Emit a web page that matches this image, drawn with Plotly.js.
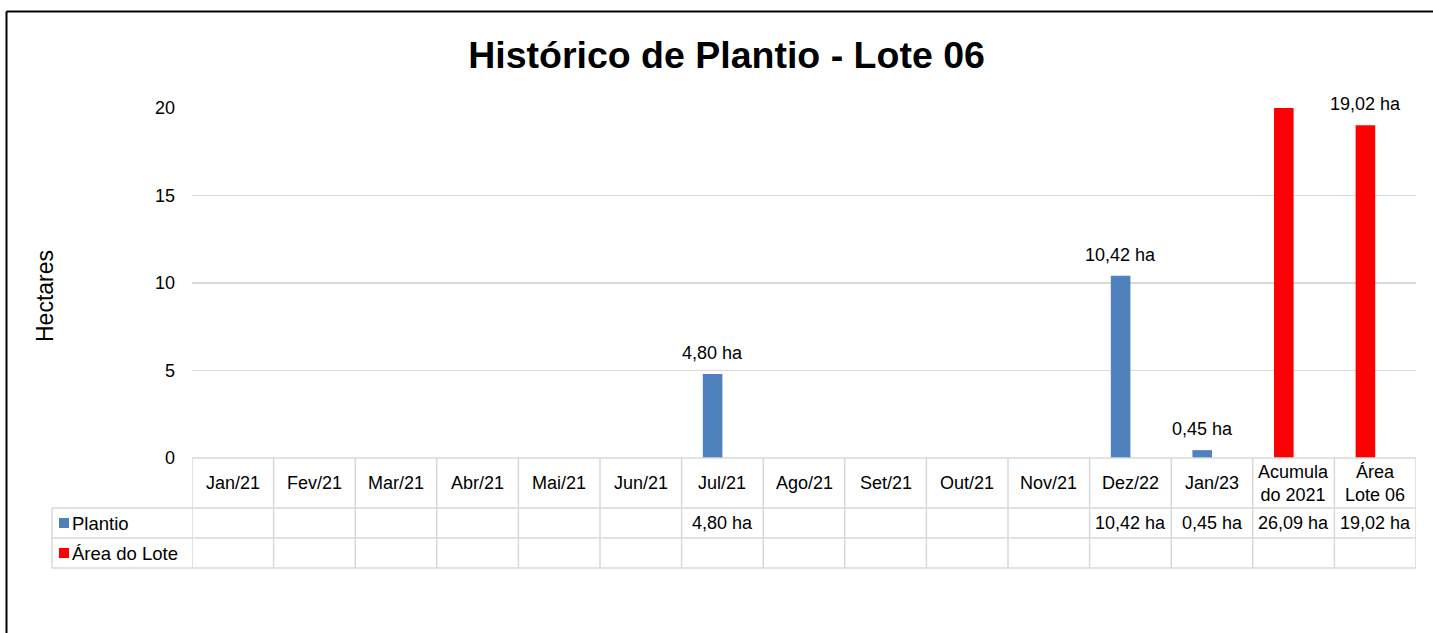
<!DOCTYPE html>
<html>
<head>
<meta charset="utf-8">
<script src="https://cdn.plot.ly/plotly-3.0.1.min.js"></script>
<style>
  html, body { margin: 0; padding: 0; background: #fff; overflow: hidden; }
  #chart { width: 1433px; height: 633px; }
</style>
</head>
<body>
<div id="chart"></div>
<script>
// ---- data ----
const categories = ['Jan/21', 'Fev/21', 'Mar/21', 'Abr/21', 'Mai/21', 'Jun/21', 'Jul/21', 'Ago/21',
  'Set/21', 'Out/21', 'Nov/21', 'Dez/22', 'Jan/23', 'Acumulado 2021', 'Área Lote 06'];
const tickLabels = ['Jan/21', 'Fev/21', 'Mar/21', 'Abr/21', 'Mai/21', 'Jun/21', 'Jul/21', 'Ago/21',
  'Set/21', 'Out/21', 'Nov/21', 'Dez/22', 'Jan/23', 'Acumula<br>do 2021', 'Área<br>Lote 06'];
const plantio = [null, null, null, null, null, null, 4.80, null, null, null, null, 10.42, 0.45, 26.09, 19.02];
const areaDoLote = [null, null, null, null, null, null, null, null, null, null, null, null, null, null, null];
const seriesNames = ['Plantio', 'Área do Lote'];
const yTicks = [0, 5, 10, 15, 20];
const titleText = 'Histórico de Plantio - Lote 06';
const yTitle = 'Hectares';

// ---- styles ----
const FONT = '"Liberation Sans", Arial, Helvetica, sans-serif';
const BLUE = '#4F81BD';
const RED = '#FF0000';
const GRID = '#D9D9D9';
const yMax = 20;
const plotH = 350;      // px height of the plot area
const plotW = 1224;     // px width of the plot area
const catW = plotW / categories.length;
const barW = 0.24;      // bar width in category units
const py = px => -px / plotH;           // pixels below the x axis -> paper y
const pxX = px => px / plotW;           // pixels from plot left -> paper x

const barColors = categories.map((c, i) => i >= 13 ? RED : BLUE);
const fmt = v => v.toFixed(2).replace('.', ',') + ' ha';

const traces = [
  { type: 'bar', name: seriesNames[0], x: categories, y: plantio, width: barW, offset: -barW,
    marker: { color: barColors }, hoverinfo: 'skip' },
  { type: 'bar', name: seriesNames[1], x: categories, y: areaDoLote, width: barW, offset: 0,
    marker: { color: RED }, hoverinfo: 'skip' }
];

const annotations = [];
const shapes = [];
const lineStyle = { color: GRID, width: 1.5 };

// data labels above bars
categories.forEach((c, i) => {
  const v = plantio[i];
  if (v !== null && v <= yMax) {
    annotations.push({ x: c, y: v, xref: 'x', yref: 'y', text: fmt(v), showarrow: false,
      yanchor: 'middle', yshift: 21, xshift: -barW / 2 * catW,
      font: { family: FONT, size: 18, color: '#000' } });
  }
});

// y axis title
annotations.push({ x: pxX(-147), y: (458 - 296) / plotH, xref: 'paper', yref: 'paper',
  text: yTitle, textangle: -90, showarrow: false, xanchor: 'center', yanchor: 'middle',
  font: { family: FONT, size: 23, color: '#000' } });

// table: header row labels
const rowHead = [0, 50];   // px below axis
const row1 = [50, 80];
const row2 = [80, 110];
const mid = r => py((r[0] + r[1]) / 2);
categories.forEach((c, i) => {
  annotations.push({ x: i, y: mid(rowHead), xref: 'x', yref: 'paper', text: tickLabels[i],
    showarrow: false, xanchor: 'center', yanchor: 'middle',
    font: { family: FONT, size: 18, color: '#000' } });
  if (plantio[i] !== null) {
    annotations.push({ x: i, y: mid(row1), xref: 'x', yref: 'paper', text: fmt(plantio[i]),
      showarrow: false, xanchor: 'center', yanchor: 'middle',
      font: { family: FONT, size: 18, color: '#000' } });
  }
  if (areaDoLote[i] !== null) {
    annotations.push({ x: i, y: mid(row2), xref: 'x', yref: 'paper', text: fmt(areaDoLote[i]),
      showarrow: false, xanchor: 'center', yanchor: 'middle',
      font: { family: FONT, size: 18, color: '#000' } });
  }
});

// legend keys in the table
const legendLeft = -140;   // px left of plot
[[row1, BLUE, seriesNames[0]], [row2, RED, seriesNames[1]]].forEach(([r, col, name]) => {
  const cy = (r[0] + r[1]) / 2;
  shapes.push({ type: 'rect', xref: 'paper', yref: 'paper',
    x0: pxX(-133), x1: pxX(-123), y0: py(cy - 5), y1: py(cy + 5),
    fillcolor: col, line: { width: 0 } });
  annotations.push({ x: pxX(-122), y: py(cy), xref: 'paper', yref: 'paper', text: name,
    showarrow: false, xanchor: 'left', yanchor: 'middle',
    font: { family: FONT, size: 18.5, color: '#000' } });
});

// table grid lines
shapes.push({ type: 'line', xref: 'paper', yref: 'paper', x0: 0, x1: 1, y0: 0, y1: 0, line: lineStyle });
[row1[0], row2[0], row2[1]].forEach(p => {
  shapes.push({ type: 'line', xref: 'paper', yref: 'paper', x0: pxX(legendLeft), x1: 1,
    y0: py(p), y1: py(p), line: lineStyle });
});
for (let k = 0; k <= categories.length; k++) {
  shapes.push({ type: 'line', xref: 'x', yref: 'paper', x0: k - 0.5, x1: k - 0.5,
    y0: 0, y1: py(row2[1]), line: lineStyle });
}
shapes.push({ type: 'line', xref: 'paper', yref: 'paper', x0: pxX(legendLeft), x1: pxX(legendLeft),
  y0: py(row1[0]), y1: py(row2[1]), line: lineStyle });

// outer chart border (left and top)
shapes.push({ type: 'line', xref: 'paper', yref: 'paper', x0: pxX(-185.5), x1: pxX(1260),
  y0: py(-446.5), y1: py(-446.5), line: { color: '#000', width: 2 } });
shapes.push({ type: 'line', xref: 'paper', yref: 'paper', x0: pxX(-185.5), x1: pxX(-185.5),
  y0: py(-446.5), y1: py(200), line: { color: '#000', width: 2 } });

const layout = {
  width: 1433, height: 633,
  margin: { l: 192, r: 17, t: 108, b: 175, pad: 0 },
  paper_bgcolor: '#fff', plot_bgcolor: '#fff',
  font: { family: FONT, size: 18, color: '#000' },
  title: { text: '<b>' + titleText + '</b>', xref: 'container', yref: 'container',
    x: 0.507, xanchor: 'center', y: 1 - 55 / 633, yanchor: 'middle',
    font: { family: FONT, size: 37.5, color: '#000' } },
  showlegend: false,
  barmode: 'overlay',
  xaxis: { type: 'category', categoryorder: 'array', categoryarray: categories,
    range: [-0.5, categories.length - 0.5], showticklabels: false, showgrid: false,
    zeroline: false, showline: false, ticks: '', fixedrange: true },
  yaxis: { range: [0, yMax], tickvals: yTicks, ticktext: yTicks.map(String), showgrid: true,
    gridcolor: GRID, gridwidth: 1.5, zeroline: false, showline: false, ticks: '',
    ticklabelstandoff: 16, tickfont: { family: FONT, size: 18, color: '#000' },
    automargin: false, fixedrange: true },
  annotations: annotations,
  shapes: shapes
};

Plotly.newPlot('chart', traces, layout, { displayModeBar: false, staticPlot: true });
</script>
</body>
</html>
